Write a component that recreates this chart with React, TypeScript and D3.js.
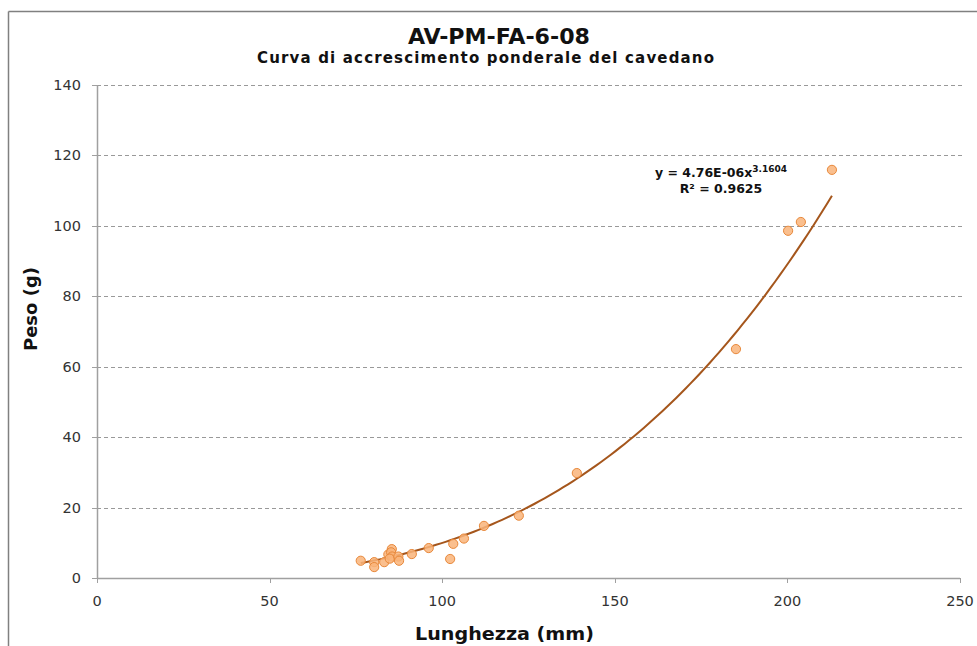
import React from "react";
import * as d3 from "d3";

const lengths = [76.4, 80.3, 80.3, 83.2, 84.4, 85.4, 85.2, 85.5, 84.8, 87.3, 87.5, 91.2, 96.1, 102.3, 103.2, 106.3, 112.1, 122.2, 139.0, 185.1, 200.2, 203.9, 212.9];
const weights = [4.9, 4.5, 3.1, 4.5, 6.7, 8.2, 7.3, 6.1, 5.5, 6.1, 4.9, 6.8, 8.5, 5.4, 9.7, 11.2, 14.8, 17.7, 29.8, 65.0, 98.6, 101.1, 115.9];
const xTicks = [0, 50, 100, 150, 200, 250];
const yTicks = [0, 20, 40, 60, 80, 100, 120, 140];
const coefA = 4.76e-6;
const coefB = 3.1604;

const W = 977, H = 646;
const font = "Verdana, 'DejaVu Sans', sans-serif";

export default function App() {
  const x = d3.scaleLinear().domain([0, 250]).range([97, 960]);
  const y = d3.scaleLinear().domain([0, 140]).range([578, 85]);
  const minX = d3.min(lengths) as number;
  const maxX = d3.max(lengths) as number;
  const curvePts = d3.range(0, 101).map((i) => {
    const xv = minX + ((maxX - minX) * i) / 100;
    return [xv, coefA * Math.pow(xv, coefB)] as [number, number];
  });
  const line = d3.line<[number, number]>().x((d) => x(d[0])).y((d) => y(d[1]));
  return (
    <svg width={W} height={H} style={{ position: "absolute", left: 0, top: 0, background: "#fff" }} fontFamily={font}>
      <rect x={0} y={0} width={W} height={H} fill="#fff" />
      <line x1={8.5} y1={11.5} x2={W} y2={11.5} stroke="#808080" strokeWidth={1.5} />
      <line x1={8.5} y1={11.5} x2={8.5} y2={H} stroke="#808080" strokeWidth={1.5} />
      {yTicks.filter((t) => t > 0).map((t) => (
        <line key={"g" + t} x1={97} x2={965} y1={Math.round(y(t)) + 0.5} y2={Math.round(y(t)) + 0.5} stroke="#999" strokeDasharray="4,3" strokeWidth={1} />
      ))}
      <line x1={97.5} x2={97.5} y1={85} y2={578} stroke="#a0a0a0" strokeWidth={1.5} />
      <line x1={97} x2={960} y1={578.5} y2={578.5} stroke="#a0a0a0" strokeWidth={1.5} />
      {yTicks.map((t) => (
        <g key={"yt" + t}>
          <line x1={92} x2={97} y1={Math.round(y(t)) + 0.5} y2={Math.round(y(t)) + 0.5} stroke="#a0a0a0" />
          <text x={81} y={y(t) + 5} textAnchor="end" fontSize={14.5} fill="#333">{t}</text>
        </g>
      ))}
      {xTicks.map((t) => (
        <g key={"xt" + t}>
          <line x1={Math.round(x(t)) + 0.5} x2={Math.round(x(t)) + 0.5} y1={578} y2={583} stroke="#a0a0a0" />
          <text x={x(t)} y={606} textAnchor="middle" fontSize={14.5} fill="#333">{t}</text>
        </g>
      ))}
      <path d={line(curvePts) || ""} fill="none" stroke="#A5561C" strokeWidth={2} />
      {lengths.map((l, i) => (
        <circle key={"p" + i} cx={x(l)} cy={y(weights[i])} r={4.6} fill="#F9B47A" fillOpacity={0.85} stroke="#E8883A" strokeWidth={1} />
      ))}
      <text x={721} y={177} textAnchor="middle" fontSize={12.5} fontWeight="bold" fill="#111">
        y = 4.76E-06x<tspan dy={-5} fontSize={9}>3.1604</tspan>
      </text>
      <text x={721} y={193} textAnchor="middle" fontSize={12.5} fontWeight="bold" fill="#111">R² = 0.9625</text>
      <text x={408} y={44} fontSize={21} fontWeight="bold" fill="#111" textLength={182} lengthAdjust="spacingAndGlyphs">AV-PM-FA-6-08</text>
      <text x={257} y={63} fontSize={15} fontWeight="bold" fill="#111" textLength={457} lengthAdjust="spacing">Curva di accrescimento ponderale del cavedano</text>
      <text x={415} y={640} fontSize={18.5} fontWeight="bold" fill="#111" textLength={179} lengthAdjust="spacingAndGlyphs">Lunghezza (mm)</text>
      <text transform="translate(37,309) rotate(-90)" textAnchor="middle" fontSize={18} fontWeight="bold" fill="#111">Peso (g)</text>
    </svg>
  );
}
